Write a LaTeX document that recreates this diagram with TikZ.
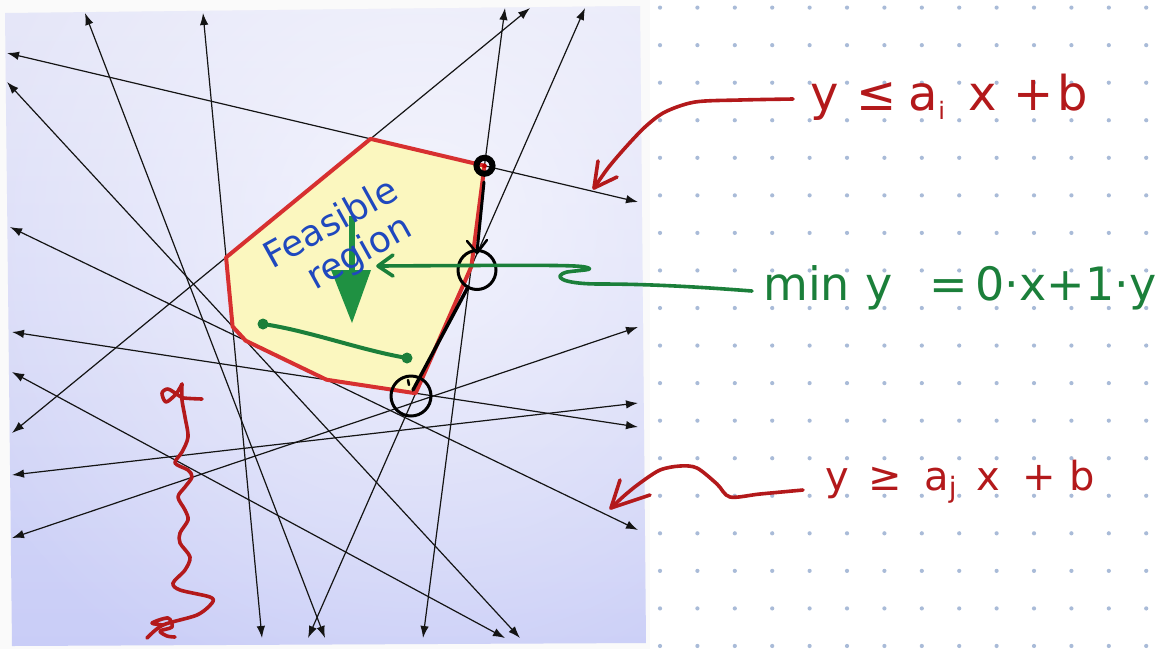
\documentclass[tikz,border=0pt]{standalone}
\usepackage{fontspec}
\setmainfont{DejaVu Sans}
\usetikzlibrary{arrows.meta,fadings}
\tikzfading[name=glow, inner color=transparent!0, outer color=transparent!100]
\definecolor{panelTop}{HTML}{E4E5F8}
\definecolor{panelBot}{HTML}{C9CDF7}
\definecolor{polyfill}{HTML}{FBF7BF}
\definecolor{polyred}{HTML}{D73030}
\definecolor{inkred}{HTML}{B3191B}
\definecolor{inkgreen}{HTML}{1B7F3A}
\definecolor{arrgreen}{HTML}{1F9142}
\definecolor{inkblue}{HTML}{1F48BE}
\definecolor{dotc}{HTML}{A9BBD8}
\begin{document}
\begin{tikzpicture}[x=1pt,y=-1pt,
  cline/.style={line width=1.2pt, draw=black!92, {Latex[length=12pt,width=8.5pt]}-{Latex[length=12pt,width=8.5pt]}},
  redink/.style={draw=inkred, line width=3.6pt, line cap=round, line join=round},
  greenink/.style={draw=inkgreen, line width=3.6pt, line cap=round, line join=round},
  blackink/.style={draw=black, line width=3pt, line cap=round, line join=round},
  eqred/.style={anchor=base west, inner sep=0pt, text=inkred},
  eqgreen/.style={anchor=base west, inner sep=0pt, text=inkgreen},
  handblue/.style={inner sep=0pt, text=inkblue, rotate=29, align=center, font=\fontsize{36}{39}\selectfont}]
\useasboundingbox (0,0) rectangle (1169,649);
\fill[white] (0,0) rectangle (1169,649);
\fill[black!2] (0,0) rectangle (650,649);
% dot grid
\foreach \i in {0,...,13}
  \foreach \j in {0,...,17}
    \fill[dotc] ({660+37.4*\i},{7.6+37.55*\j}) circle (2.1);
% panel
\coordinate (P1) at (5,13);
\coordinate (P2) at (640,6);
\coordinate (P3) at (646,643);
\coordinate (P4) at (12,646);
\begin{scope}
  \clip (P1) -- (P2) -- (P3) -- (P4) -- cycle;
  \shade[top color=panelTop, bottom color=panelBot] (0,0) rectangle (650,649);
  \fill[white, path fading=glow, opacity=0.65] (420,220) circle (520);
\end{scope}
% line end points
\coordinate (a1) at (7,53);    \coordinate (a2) at (638,202);
\coordinate (b1) at (203,13);  \coordinate (b2) at (262,638);
\coordinate (c1) at (85,13);   \coordinate (c2) at (325,638);
\coordinate (d1) at (7,82);    \coordinate (d2) at (520,638);
\coordinate (e1) at (10,227);  \coordinate (e2) at (638,530);
\coordinate (f1) at (12,332);  \coordinate (f2) at (638,427);
\coordinate (g1) at (12,372);  \coordinate (g2) at (505,638);
\coordinate (h1) at (12,433);  \coordinate (h2) at (530,8);
\coordinate (i1) at (12,475);  \coordinate (i2) at (638,403);
\coordinate (j1) at (12,538);  \coordinate (j2) at (638,327);
\coordinate (k1) at (585,8);   \coordinate (k2) at (308,638);
\coordinate (l1) at (505,8);   \coordinate (l2) at (423,638);
\foreach \n in {a,b,c,d,e,f,g,h,i,j,k,l}
  \draw[cline] (\n1) -- (\n2);
% feasible polygon
\coordinate (V1) at (intersection of h1--h2 and a1--a2);
\coordinate (V2) at (intersection of a1--a2 and l1--l2);
\coordinate (V3) at (intersection of l1--l2 and k1--k2);
\coordinate (V4) at (intersection of k1--k2 and f1--f2);
\coordinate (V5) at (intersection of f1--f2 and e1--e2);
\coordinate (V6) at (intersection of e1--e2 and d1--d2);
\coordinate (V7) at (intersection of d1--d2 and b1--b2);
\coordinate (V8) at (intersection of b1--b2 and h1--h2);
\filldraw[fill=polyfill, draw=polyred, line width=4pt, line join=round]
  (V1) -- (V2) -- (V3) -- (V4) -- (V5) -- (V6) -- (V7) -- (V8) -- cycle;
% green downward arrow
\draw[arrgreen, line width=6.5pt] (352,216) -- (352,285);
\fill[arrgreen] (331,270) -- (371,270) -- (352,323) -- cycle;
% green segment
\draw[greenink, line width=4pt] (263,324) .. controls (310,331) and (360,350) .. (407,358);
\fill[inkgreen] (263,324) circle (5.5);
\fill[inkgreen] (407,358) circle (5.5);
% blue text
\node[handblue] (feas) at (341,242) {Feasible\\\hspace{22pt}region};
% black annotations
\draw[black, line width=6pt] (V2) circle (8);
\fill[red!75!black] (V2) circle (2.3);
\draw[blackink] (484,182) -- (477,252);
\draw[blackink, line width=2.5pt] (467,241) -- (477,253) -- (487,240);
\draw[blackink, line width=3pt] (477,270) ellipse (19 and 19.5);
\draw[blackink, line width=3.5pt] (468,287) -- (413,390);
\draw[blackink, line width=3pt] (411,396) circle (20);
\draw[blackink, line width=2.5pt] (408,380) -- (409,385);
% green annotation
\draw[greenink] (752,291) .. controls (700,287) and (650,284) .. (600,284)
  .. controls (560,284) and (552,276) .. (567,272)
  .. controls (580,270) and (598,270) .. (585,267)
  .. controls (575,265) and (540,265) .. (379,266);
\draw[greenink] (393,255) -- (378,266) -- (393,276);
\node[eqgreen, font=\fontsize{46}{46}\selectfont] (miny) at (763,300)
  {min\hspace{16pt}y\hspace{36pt}=\hspace{8pt}0·x+1·y};
% red upper annotation
\draw[redink] plot[smooth] coordinates {(793,99) (740,100) (695,102) (665,112) (645,127) (625,148) (608,168) (594,188)};
\draw[redink] (598,161) -- (594,188) -- (617,177);
\node[eqred, font=\fontsize{48}{48}\selectfont] (ineqA) at (810,110)
  {y\hspace{18pt}≤\hspace{12pt}a\raisebox{-9pt}{\fontsize{24}{24}\selectfont i}\hspace{24pt}x\hspace{16pt}+\hspace{4pt}b};
% red lower annotation
\draw[redink] plot[smooth] coordinates {(803,490) (760,494) (730,497) (717,484) (697,468) (680,466) (660,470) (640,483) (625,495) (611,508)};
\draw[redink] (620,480) -- (611,508) -- (650,495);
\node[eqred, font=\fontsize{40}{40}\selectfont] (ineqB) at (825,490)
  {y\hspace{20pt}≥\hspace{22pt}a\raisebox{-7pt}{\fontsize{28}{28}\selectfont j}\hspace{20pt}x\hspace{22pt}+\hspace{14pt}b};
% red wiggly arrow
\draw[redink] plot[smooth] coordinates {(182,384) (182,400) (185,417) (188,437) (182,452) (175,463) (188,470) (192,477) (185,487) (178,497) (185,510) (188,520) (180,533) (180,543) (190,557) (185,570) (173,583) (180,590) (210,597) (212,603) (197,615) (163,625) (147,638)};
\draw[redink] plot[smooth] coordinates {(182,384) (176,394) (166,402) (162,393) (168,389) (178,395) (184,398) (202,399)};
\draw[redink] plot[smooth] coordinates {(163,625) (152,623) (168,618) (172,627) (160,631) (167,636) (175,637)};
\end{tikzpicture}
\end{document}
